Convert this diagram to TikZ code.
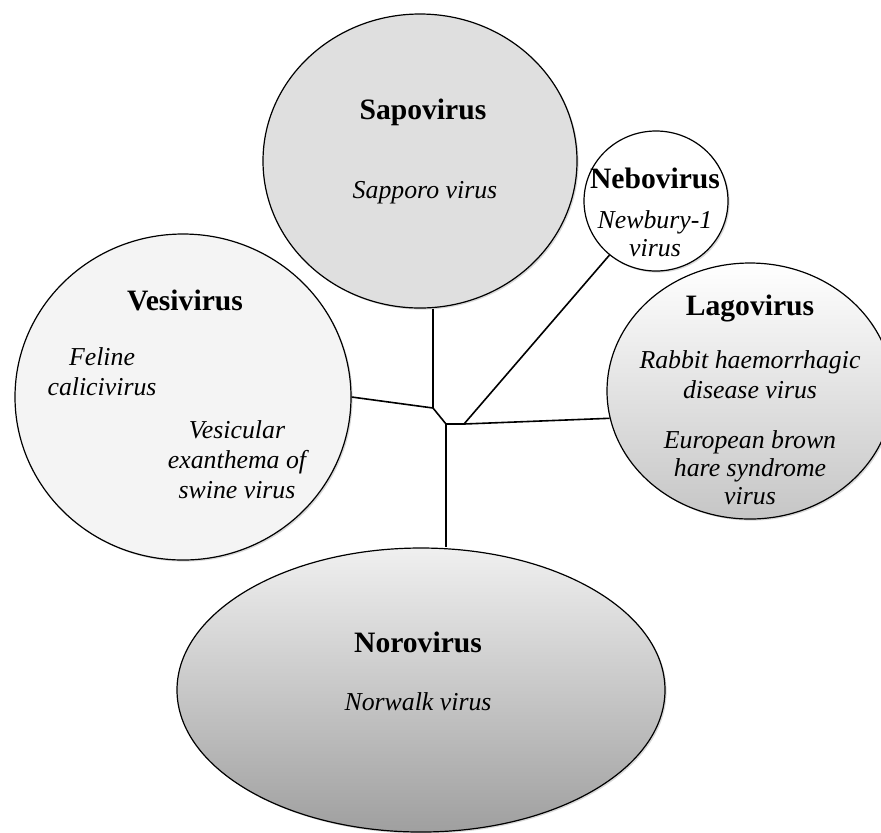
\documentclass[tikz,border=0pt]{standalone}
\usepackage{fontspec}
\setmainfont{Liberation Serif}
\usetikzlibrary{shapes.geometric,shadows}
\tikzset{genus/.style={ellipse, draw, line width=0.6pt, inner sep=0pt,
    drop shadow={shadow xshift=0.8pt, shadow yshift=-0.8pt, opacity=0.3}},
  title/.style={font=\fontsize{14.8}{17}\selectfont\bfseries},
  species/.style={font=\fontsize{12.9}{15}\selectfont\itshape, align=center},
  branch/.style={line width=0.8pt}}

\begin{document}
\begin{tikzpicture}[x=0.5pt, y=-0.5pt]
		\useasboundingbox (0,0) rectangle (881,832);
		\clip (0,0) rectangle (881,832);
		% genera
		\node(sapo)[genus, fill=gray!25, minimum width=157pt, minimum height=147pt] at (420,161){};
		\node(nebo)[genus, fill=white, minimum width=72pt, minimum height=70pt] at (656,201){};
		\node(vesi)[genus, fill=gray!9, minimum width=168pt, minimum height=163pt] at (183,397){};
		\node(lago)[genus, top color=white, bottom color=gray!45, minimum width=143pt, minimum height=128pt] at (750,391){};
		\node(noro)[genus, top color=gray!12, middle color=gray!28, bottom color=gray!75, minimum width=244pt, minimum height=142pt] at (421,690){};
		% labels
		\node(sapoT)[title] at (423,112){Sapovirus};
		\node(sapoS)[species] at (425,193){Sapporo virus};
		\node(neboT)[title] at (655,178){Nebovirus};
		\node(neboS)[species, font=\fontsize{12.9}{14}\selectfont\itshape] at (655,234){Newbury-1\\virus};
		\node(vesiT)[title] at (185,300){Vesivirus};
		\node(vesiA)[species] at (102,372){Feline\\calicivirus};
		\node(vesiB)[species] at (237,460){Vesicular\\exanthema of\\swine virus};
		\node(lagoT)[title] at (750,308){Lagovirus};
		\node(lagoA)[species] at (750,375){Rabbit haemorrhagic\\disease virus};
		\node(lagoB)[species, font=\fontsize{12.9}{14}\selectfont\itshape] at (750,468){European brown\\hare syndrome\\virus};
		\node(noroT)[title] at (418,642){Norovirus};
		\node(noroS)[species] at (418,702){Norwalk virus};
		% tree
		\coordinate(j1) at (433,408);
		\coordinate(j2) at (446,424);
		\coordinate(j3) at (464,424);
		\draw[branch](j1) -- (j1 |- sapo.south);
		\draw[branch](vesi.east) -- (j1) -- (j2) -- (j3);
		\draw[branch](j2) -- (j2 |- noro.north);
		\draw[branch](j3) -- (nebo);
		\draw[branch](j3) -- (lago.191);
	\end{tikzpicture}
\end{document}
